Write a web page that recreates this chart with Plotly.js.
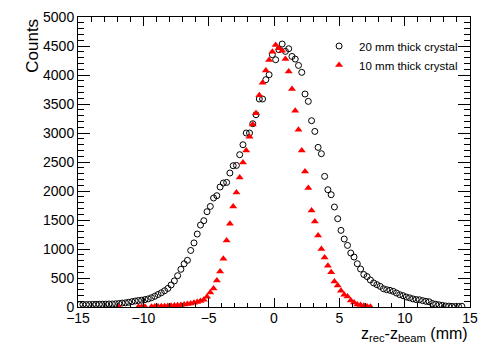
<!DOCTYPE html>
<html>
<head>
<meta charset="utf-8">
<script src="https://cdn.plot.ly/plotly-3.0.1.min.js"></script>
<style>
  html, body { margin: 0; padding: 0; background: #fff; }
  #chart { width: 491px; height: 354px; }
</style>
</head>
<body>
<div id="chart"></div>
<script>
// histogram bins: 0.25 mm wide, first bin centre given per series
const binWidth = 0.25;

// 20 mm thick crystal, bins from -14.875 mm
const thick20Start = -14.875;
const thick20Counts = [
  40, 42, 42, 44, 45, 46, 48, 48, 50, 52,
  52, 55, 60, 68, 72, 82, 92, 103, 112, 118,
  128, 140, 160, 185, 215, 245, 280, 320, 380, 450,
  540, 650, 745, 805, 975, 1105, 1258, 1413, 1488, 1643,
  1734, 1879, 1919, 2069, 2138, 2148, 2310, 2436, 2441, 2626,
  2798, 3000, 3000, 3160, 3315, 3586, 3586, 3919, 4005, 4350,
  4263, 4436, 4534, 4407, 4453, 4320, 4275, 4165, 4045, 3672,
  3545, 3212, 3027, 2752, 2643, 2252, 2022, 1936, 1724, 1522,
  1321, 1172, 1062, 931, 862, 746, 655, 560, 525, 465,
  415, 385, 356, 315, 298, 287, 270, 241, 212, 195,
  172, 158, 140, 128, 125, 110, 98, 90, 60, 48,
  38, 28, 18, 15, 10, 8, 10, 12
];

// 10 mm thick crystal, bins from -11.875 mm (null = empty bin)
const thick10Start = -11.875;
const thick10Counts = [
  3, null, null, null, null, null, 3, 5, 4, null,
  6, 8, 10, 12, 15, 18, 22, 26, 30, 35,
  42, 52, 62, 75, 88, 102, 125, 175, 252, 321,
  459, 614, 833, 1148, 1436, 1734, 1976, 2234, 2493, 2700,
  2936, 3148, 3340, 3650, 3868, 4079, 4260, 4400, 4516, 4460,
  4420, 4275, 4062, 3758, 3384, 3057, 2700, 2338, 2051, 1665,
  1476, 1234, 1000, 855, 712, 597, 441, 372, 281, 212,
  183, 114, 79, 45, 34, 22, 10, 5
];

const seriesNames = ['20 mm thick crystal', '10 mm thick crystal'];

const font = '"Liberation Sans", Arial, Helvetica, sans-serif';

const traces = [
  {
    type: 'scatter',
    mode: 'markers',
    name: seriesNames[0],
    x0: thick20Start,
    dx: binWidth,
    y: thick20Counts,
    marker: {
      symbol: 'circle-open',
      size: 6,
      color: 'black',
      line: { width: 1, color: 'black' }
    }
  },
  {
    type: 'scatter',
    mode: 'markers',
    name: seriesNames[1],
    x0: thick10Start,
    dx: binWidth,
    y: thick10Counts,
    marker: {
      symbol: 'triangle-up',
      size: 7,
      color: '#ff0000'
    }
  }
];

const axisCommon = {
  showgrid: false,
  zeroline: false,
  showline: true,
  linecolor: 'black',
  linewidth: 1,
  mirror: 'allticks',
  ticks: 'inside',
  tickcolor: 'black',
  tickwidth: 1,
  tickfont: { family: font, size: 14, color: 'black' }
};

const layout = {
  width: 491,
  height: 354,
  margin: { l: 78, r: 21, t: 17, b: 47 },
  paper_bgcolor: 'white',
  plot_bgcolor: 'white',
  font: { family: font, color: 'black' },
  showlegend: true,
  legend: {
    x: 0.615,
    y: 0.95,
    xanchor: 'left',
    yanchor: 'top',
    bgcolor: 'rgba(0,0,0,0)',
    borderwidth: 0,
    font: { family: font, size: 11.5, color: 'black' }
  },
  xaxis: Object.assign({}, axisCommon, {
    range: [-15, 15],
    tick0: -15,
    dtick: 5,
    ticklen: 9,
    ticklabelstandoff: -2,
    minor: { dtick: 1, ticklen: 4.5, tickcolor: 'black', ticks: 'inside' }
  }),
  yaxis: Object.assign({}, axisCommon, {
    range: [0, 5000],
    tick0: 0,
    dtick: 500,
    ticklen: 12,
    minor: { dtick: 100, ticklen: 6, tickcolor: 'black', ticks: 'inside' }
  }),
  annotations: [
    {
      xref: 'paper', yref: 'paper',
      x: 1, y: -0.095,
      xanchor: 'right', yanchor: 'middle',
      showarrow: false,
      text: 'z<sub>rec</sub>-z<sub>beam</sub> (mm)',
      font: { family: font, size: 16, color: 'black' }
    },
    {
      xref: 'paper', yref: 'paper',
      x: -0.118, y: 1,
      xanchor: 'center', yanchor: 'top',
      textangle: -90,
      showarrow: false,
      text: 'Counts',
      font: { family: font, size: 17, color: 'black' }
    }
  ]
};

Plotly.newPlot('chart', traces, layout, { displayModeBar: false, staticPlot: true });
</script>
</body>
</html>
